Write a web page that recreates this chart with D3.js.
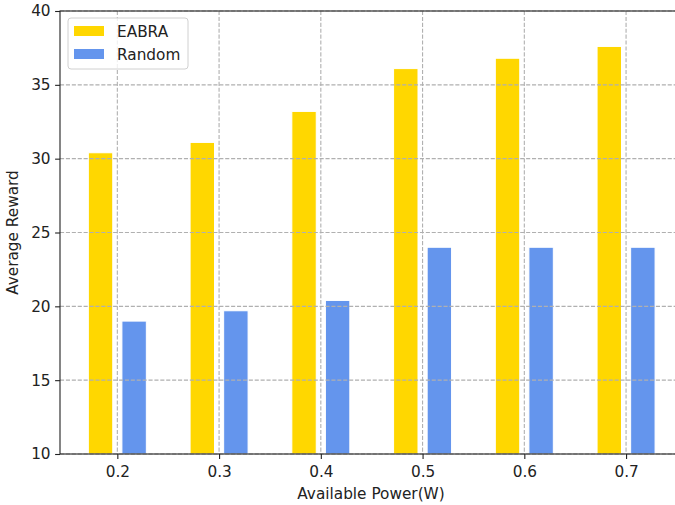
<!DOCTYPE html>
<html>
<head>
<meta charset="utf-8">
<script src="https://cdn.jsdelivr.net/npm/d3@7"></script>
<style>
  html, body { margin: 0; padding: 0; background: #fff; }
  svg { display: block; font-family: "DejaVu Sans", sans-serif; }
</style>
</head>
<body>
<svg id="chart" width="675" height="505"></svg>
<script>
// Available power levels (W) and average reward per method
const powers = [0.2, 0.3, 0.4, 0.5, 0.6, 0.7];
const eabra = [30.4, 31.1, 33.2, 36.1, 36.8, 37.6];
const randomPolicy = [19.0, 19.7, 20.4, 24.0, 24.0, 24.0];
const seriesNames = ["EABRA", "Random"];
const yTicks = [10, 15, 20, 25, 30, 35, 40];

const colors = { EABRA: "#FFD700", Random: "#6495ED" };
const barWidth = 0.024;   // in data units (W)
const barOffset = 0.0165; // half-distance between paired bars
const fontSize = "15.3px";

const svg = d3.select("#chart");
const plot = { left: 60, top: 11, right: 683.4, bottom: 454 };

// x extent padded by 5% of the bar span, like an auto-margined axis
const lo = d3.min(powers) - barOffset - barWidth / 2;
const hi = d3.max(powers) + barOffset + barWidth / 2;
const pad = (hi - lo) * 0.05;
const x = d3.scaleLinear().domain([lo - pad, hi + pad]).range([plot.left, plot.right]);
const y = d3.scaleLinear().domain([10, 40]).range([plot.bottom, plot.top]);

const rows = powers.map((p, i) => ({ p, EABRA: eabra[i], Random: randomPolicy[i] }));

// bars
const groups = [
  { name: "EABRA", dx: -barOffset },
  { name: "Random", dx: barOffset }
];
groups.forEach(g => {
  svg.append("g").selectAll("rect").data(rows).join("rect")
    .attr("x", d => x(d.p + g.dx - barWidth / 2))
    .attr("width", d => x(d.p + g.dx + barWidth / 2) - x(d.p + g.dx - barWidth / 2))
    .attr("y", d => y(d[g.name]))
    .attr("height", d => y(10) - y(d[g.name]))
    .attr("fill", colors[g.name])
    .attr("stroke", "#fff")
    .attr("stroke-width", 1);
});

// dashed grid drawn above the bars
const grid = svg.append("g")
  .attr("stroke", "#b0b0b0")
  .attr("stroke-width", 1.1)
  .attr("stroke-dasharray", "4.1,1.8");
grid.selectAll("line.gx").data(powers).join("line")
  .attr("x1", d => x(d)).attr("x2", d => x(d))
  .attr("y1", plot.top).attr("y2", plot.bottom);
grid.selectAll("line.gy").data(yTicks).join("line")
  .attr("x1", plot.left).attr("x2", plot.right)
  .attr("y1", d => y(d)).attr("y2", d => y(d));

// axes
const xAxis = svg.append("g")
  .attr("transform", `translate(0,${plot.bottom})`)
  .call(d3.axisBottom(x).tickValues(powers).tickFormat(d3.format(".1f")).tickSize(4.9).tickPadding(7));
const yAxis = svg.append("g")
  .attr("transform", `translate(${plot.left},0)`)
  .call(d3.axisLeft(y).tickValues(yTicks).tickFormat(d3.format("d")).tickSize(4.9).tickPadding(4.5));
[xAxis, yAxis].forEach(a => {
  a.select(".domain").remove();
  a.selectAll("line").attr("stroke", "#222").attr("stroke-width", 1.1);
  a.selectAll("text").attr("fill", "#222").style("font-size", fontSize).style("font-family", "DejaVu Sans, sans-serif");
});

// frame
svg.append("rect")
  .attr("x", plot.left).attr("y", plot.top)
  .attr("width", plot.right - plot.left).attr("height", plot.bottom - plot.top)
  .attr("fill", "none").attr("stroke", "#222").attr("stroke-width", 1.1);

// axis titles
svg.append("text")
  .attr("x", 371).attr("y", 499)
  .attr("text-anchor", "middle").attr("fill", "#222")
  .style("font-size", fontSize)
  .text("Available Power(W)");
svg.append("text")
  .attr("transform", `translate(18,${(plot.top + plot.bottom) / 2}) rotate(-90)`)
  .attr("text-anchor", "middle").attr("fill", "#222")
  .style("font-size", fontSize)
  .text("Average Reward");

// legend
const legend = svg.append("g");
legend.append("rect")
  .attr("x", 68).attr("y", 18).attr("width", 120).attr("height", 51)
  .attr("rx", 3).attr("fill", "rgba(255,255,255,0.8)")
  .attr("stroke", "#d0d0d0").attr("stroke-width", 1);
seriesNames.forEach((name, i) => {
  legend.append("rect")
    .attr("x", 74).attr("y", 26 + i * 23).attr("width", 30).attr("height", 10)
    .attr("fill", colors[name]);
  legend.append("text")
    .attr("x", 117).attr("y", 37 + i * 23)
    .attr("fill", "#222").style("font-size", fontSize)
    .text(name);
});
</script>
</body>
</html>
